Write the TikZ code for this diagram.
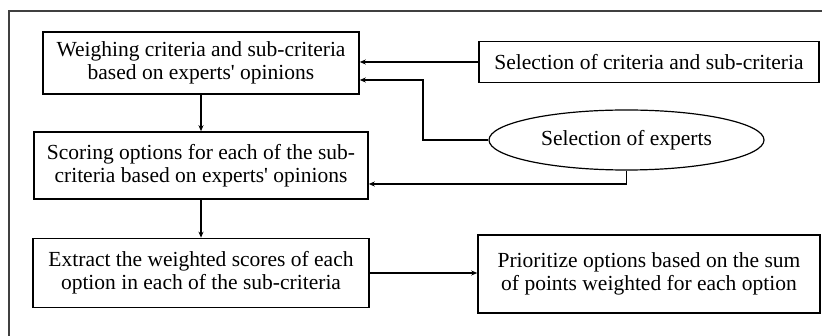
\documentclass[tikz,border=0pt]{standalone}
\usepackage{fontspec}
\setmainfont{Liberation Serif}
\usetikzlibrary{shapes.geometric,arrows.meta}
\begin{document}
\begin{tikzpicture}[x=1pt,y=-1pt,
  box/.style={draw=black,line width=1.6pt,rectangle,align=center,inner sep=0pt,font=\fontsize{21.5}{23}\selectfont},
  oval/.style={draw=black,line width=1.2pt,ellipse,inner sep=0pt,font=\fontsize{21.5}{23}\selectfont},
  conn/.style={draw=black,line width=1.5pt},
  arr/.style={conn,-{Stealth[length=6pt,width=5pt]}},
  frame/.style={draw=black!75,line width=1.4pt}]
\useasboundingbox (0,0) rectangle (822,336);
\draw[frame] (9,336) -- (9,11) -- (822,11);
\node[box,minimum width=316pt,minimum height=62pt] (w) at (201,63) {Weighing criteria and sub-criteria\\based on experts\textquotesingle{} opinions};
\node[box,minimum width=340pt,minimum height=41pt] (s) at (649,62) {Selection of criteria and sub-criteria};
\node[oval,minimum width=275pt,minimum height=60pt] (e) at (626.5,140) {Selection of experts};
\node[box,minimum width=334pt,minimum height=67pt] (sc) at (201,165.5) {Scoring options for each of the sub-\\criteria based on experts\textquotesingle{} opinions};
\node[box,minimum width=336pt,minimum height=69pt] (ex) at (201,273) {Extract the weighted scores of each\\option in each of the sub-criteria};
\node[box,minimum width=342pt,minimum height=78pt] (p) at (649,274) {Prioritize options based on the sum\\of points weighted for each option};
\coordinate (k1) at (423,140);
\coordinate (w2) at (w.east |- 0,80);
\coordinate (sc2) at (sc.east |- 0,184);
\draw[arr] (w) -- (sc);
\draw[arr] (sc) -- (ex);
\draw[arr] (s.west) -- (s.west -| w.east);
\draw[arr] (e.west) -- (k1) |- (w2);
\draw[arr] (e.south) |- (sc2);
\draw[arr] (ex.east) -- (ex.east -| p.west);
\end{tikzpicture}
\end{document}
